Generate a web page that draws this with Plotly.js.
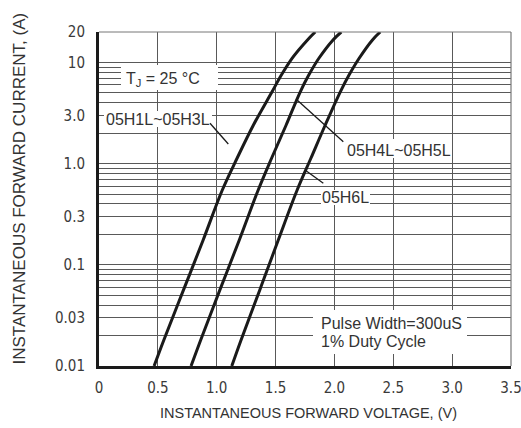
<!DOCTYPE html>
<html>
<head>
<meta charset="utf-8">
<script src="https://cdn.plot.ly/plotly-3.0.1.min.js"></script>
<style>html,body{margin:0;padding:0;background:#fff;}#chart{width:521px;height:428px;}</style>
</head>
<body>
<div id="chart"></div>
<script>
// ---- Data ----
const currentA = [0.01, 0.0181, 0.0565, 0.176, 0.54, 1.13, 2.41, 5.1, 7.5, 11.0, 16.7, 20];
const voltH1toH3 = [0.468, 0.551, 0.718, 0.885, 1.045, 1.173, 1.312, 1.469, 1.549, 1.640, 1.771, 1.837];
const voltH4toH5 = [0.782, 0.864, 1.027, 1.192, 1.350, 1.466, 1.590, 1.709, 1.782, 1.868, 1.988, 2.058];
const voltH6 = [1.128, 1.207, 1.366, 1.523, 1.681, 1.800, 1.922, 2.049, 2.124, 2.210, 2.323, 2.389];
const seriesNames = ["05H1L~05H3L", "05H4L~05H5L", "05H6L"];

const xTickVals = [0, 0.5, 1.0, 1.5, 2.0, 2.5, 3.0, 3.5];
const xTickText = ["0", "0.5", "1.0", "1.5", "2.0", "2.5", "3.0", "3.5"];
const yTickVals = [0.01, 0.03, 0.1, 0.3, 1, 3, 10, 20];
const yTickText = ["0.01", "0.03", "0.1", "0.3", "1.0", "3.0", "10", "20"];
const yGridVals = [0.01,0.02,0.03,0.04,0.05,0.06,0.07,0.08,0.09,
                   0.1,0.2,0.3,0.4,0.5,0.6,0.7,0.8,0.9,
                   1,2,3,4,5,6,7,8,9,10,20];

// ---- Layout helpers (pixel -> paper) ----
const L = 99, T = 32, PW = 412, PH = 334;
const fx = p => (p - L) / PW;
const fy = p => (T + PH - p) / PH;

const narrow = "Liberation Sans Narrow, DejaVu Sans Condensed, Liberation Sans, Arial, sans-serif";
const sans = "Liberation Sans, Arial, Helvetica, sans-serif";
const ink = "#1a1a1a";
const txt = "#333333";
const grid = "#595959";

const traces = [voltH1toH3, voltH4toH5, voltH6].map((v, i) => ({
  x: v, y: currentA, name: seriesNames[i], type: "scatter", mode: "lines",
  line: {color: ink, width: 3, shape: "spline", smoothing: 1},
  hoverinfo: "x+y+name"
}));

function box(x0, y0, x1, y1) {
  return {type: "rect", xref: "paper", yref: "paper", layer: "above",
    x0: fx(x0), x1: fx(x1), y0: fy(y1), y1: fy(y0),
    fillcolor: "#ffffff", line: {width: 0}};
}
function seg(x0, y0, x1, y1, color, w) {
  return {type: "line", xref: "paper", yref: "paper", layer: "above",
    x0: fx(x0), x1: fx(x1), y0: fy(y0), y1: fy(y1),
    line: {color: color, width: w}};
}
function label(text, px, py, opts) {
  return Object.assign({text: text, xref: "paper", yref: "paper", x: fx(px), y: fy(py),
    xanchor: "center", yanchor: "middle", showarrow: false,
    font: {family: sans, size: 16, color: txt}}, opts || {});
}

const layout = {
  width: 521, height: 428,
  margin: {l: L, r: 521 - L - PW, t: T, b: 428 - T - PH, pad: 0},
  paper_bgcolor: "#ffffff", plot_bgcolor: "#ffffff",
  showlegend: false,
  xaxis: {
    range: [0, 3.5], tickvals: xTickVals, ticktext: xTickText,
    showgrid: true, gridcolor: grid, gridwidth: 1, zeroline: false,
    showline: true, linecolor: ink, linewidth: 3, ticks: "",
    ticklabelstandoff: 6, ticklabeloverflow: "allow",
    tickfont: {family: narrow, size: 15, color: "#3a3a3a"}
  },
  yaxis: {
    type: "log", range: [-2, Math.log10(20)],
    tickvals: yTickVals, ticktext: yTickText,
    showgrid: true, gridcolor: grid, gridwidth: 1, zeroline: false,
    minor: {tickmode: "array", tickvals: yGridVals, showgrid: true, gridcolor: grid, gridwidth: 1, ticks: ""},
    showline: true, linecolor: ink, linewidth: 3, ticks: "",
    ticklabelstandoff: 8, ticklabeloverflow: "allow",
    tickfont: {family: narrow, size: 15, color: "#3a3a3a"}
  },
  shapes: [
    seg(L, T, L + PW, T, "#777", 1),
    seg(L + PW, T, L + PW, T + PH, "#777", 1.2),
    box(121, 65, 218, 90),
    box(104, 111, 212, 127),
    box(345, 139, 452, 158),
    box(321, 190, 370, 205),
    box(313, 310, 467, 354),
    seg(210, 123.3, 228.3, 144, ink, 1.3),
    seg(296, 99, 343.3, 141.7, ink, 1.3),
    seg(305, 170, 323.3, 183.3, ink, 1.3)
  ],
  annotations: [
    label("T<sub>J</sub> = 25 °C", 163, 79),
    label(seriesNames[0], 158, 119),
    label(seriesNames[1], 398.5, 150),
    label(seriesNames[2], 345.5, 197.5),
    label("Pulse Width=300uS", 319.3, 323, {xanchor: "left"}),
    label("1% Duty Cycle", 319.3, 341.5, {xanchor: "left"}),
    label("INSTANTANEOUS FORWARD VOLTAGE, (V)", 308, 413, {font: {family: sans, size: 14.5, color: txt}}),
    label("INSTANTANEOUS FORWARD CURRENT, (A)", 18.5, 189, {textangle: -90, font: {family: sans, size: 17, color: txt}})
  ]
};

Plotly.newPlot("chart", traces, layout, {staticPlot: true, displayModeBar: false});
</script>
</body>
</html>
